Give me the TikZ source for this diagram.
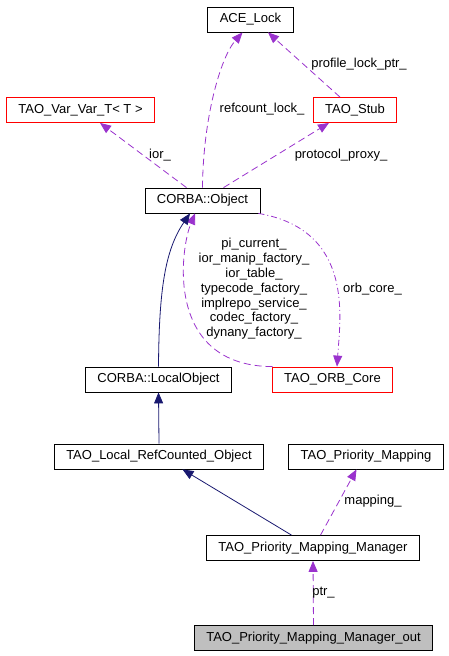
\documentclass[tikz,border=0pt]{standalone}
\usepackage{fontspec}
\setmainfont{Liberation Sans}
\usetikzlibrary{arrows.meta}
\definecolor{usecol}{HTML}{9A32CD}
\definecolor{inhcol}{HTML}{191970}
\begin{document}
\begin{tikzpicture}[x=1pt, y=1pt,
    cls/.style={draw, line width=0.8pt, minimum height=25pt, inner xsep=12pt, inner ysep=0pt, font=\fontsize{13}{15}\selectfont},
    redcls/.style={cls, draw=red},
    lbl/.style={inner sep=0pt, font=\fontsize{13}{14.8}\selectfont, align=center},
    uses/.style={usecol, line width=0.8pt, dash pattern=on 7pt off 4pt, -{Triangle[length=11pt, width=9pt]}},
    inh/.style={inhcol, line width=0.8pt, -{Triangle[length=11pt, width=9pt]}}]
    \useasboundingbox (0,0) rectangle (448,-656);
    \node[cls] (lock) at (250.5,-19.5) {ACE\_Lock};
    \node[redcls] (var) at (80.5,-110) {TAO\_Var\_Var\_T< T >};
    \node[redcls] (stub) at (355,-110) {TAO\_Stub};
    \node[cls] (obj) at (202.5,-200.5) {CORBA::Object};
    \node[cls] (local) at (158.5,-379.5) {CORBA::LocalObject};
    \node[redcls] (orb) at (332.5,-379.5) {TAO\_ORB\_Core};
    \node[cls] (rc) at (159,-456.5) {TAO\_Local\_RefCounted\_Object};
    \node[cls] (map) at (366,-456.5) {TAO\_Priority\_Mapping};
    \node[cls] (mgr) at (313,-548) {TAO\_Priority\_Mapping\_Manager};
    \node[cls, fill=black!25] (out) at (313.5,-638) {TAO\_Priority\_Mapping\_Manager\_out};
    \draw[uses] (obj.north) .. controls (203,-120) and (220,-58) .. ([xshift=-8pt]lock.south);
    \path ([xshift=-15pt]stub.north) edge[uses] ([xshift=17.5pt]lock.south);
    \path ([xshift=-16pt]obj.north) edge[uses] ([xshift=19.5pt]var.south);
    \path ([xshift=21pt]obj.north) edge[uses] ([xshift=-26pt]stub.south);
    \draw[uses] ([xshift=-60pt]orb.north) .. controls (165,-366) and (180,-250) .. ([xshift=-7.5pt]obj.south);
    \draw[uses, dash pattern=on 6pt off 3pt on 1pt off 3pt] ([xshift=-2pt]obj.south east) .. controls (355,-230) and (340,-320) .. ([xshift=4.5pt]orb.north);
    \draw[inh] (local.north) .. controls (159,-290) and (165,-250) .. ([xshift=-12.5pt]obj.south);
    \path (rc.north) edge[inh] (local.south);
    \path ([xshift=-21.5pt]mgr.north) edge[inh] ([xshift=23.5pt]rc.south);
    \path ([xshift=7.5pt]mgr.north) edge[uses] ([xshift=-9.5pt]map.south);
    \path (out.north) edge[uses] (mgr.south);
    \node[lbl] (lrefcount) at (262,-109) {refcount\_lock\_};
    \node[lbl] (lprofile) at (359,-64) {profile\_lock\_ptr\_};
    \node[lbl] (lior) at (160,-155) {ior\_};
    \node[lbl] (lproxy) at (341,-155) {protocol\_proxy\_};
    \node[lbl] (lorbfields) at (254,-289) {pi\_current\_\\ior\_manip\_factory\_\\ior\_table\_\\typecode\_factory\_\\implrepo\_service\_\\codec\_factory\_\\dynany\_factory\_};
    \node[lbl] (lorbcore) at (372.5,-289.5) {orb\_core\_};
    \node[lbl] (lmapping) at (373,-501) {mapping\_};
    \node[lbl] (lptr) at (323.5,-592.5) {ptr\_};
\end{tikzpicture}
\end{document}
